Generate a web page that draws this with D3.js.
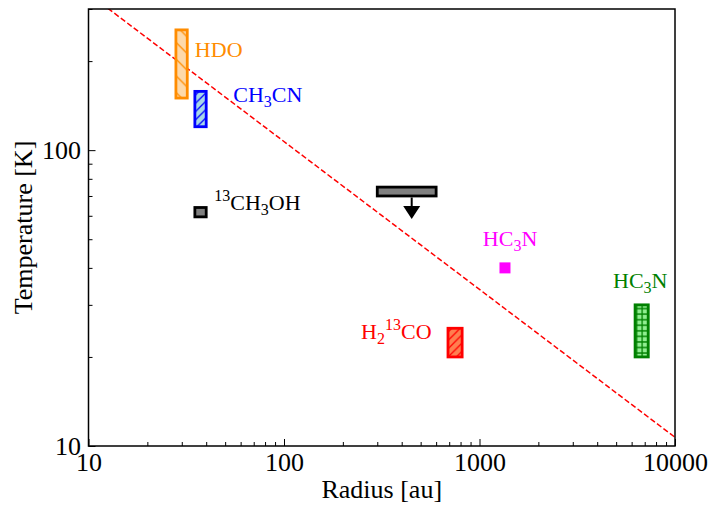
<!DOCTYPE html>
<html><head><meta charset="utf-8">
<script src="https://cdn.jsdelivr.net/npm/d3@7"></script>
<style>body{margin:0;background:#fff}svg{display:block}</style>
</head><body><svg id="c" width="719" height="506"></svg>
<script>
// ---------- data ----------
const xDomain = [10, 10000];
const yDomain = [10, 300];
const xMajorTicks = [10, 100, 1000, 10000];
const xTickLabels = ["10", "100", "1000", "10000"];
const yMajorTicks = [10, 100];
const yTickLabels = ["10", "100"];
const xMinorTicks = [20,30,40,50,60,70,80,90,200,300,400,500,600,700,800,900,2000,3000,4000,5000,6000,7000,8000,9000];
const yMinorTicks = [20,30,40,50,60,70,80,90,200,300];

// range boxes (radius in au, temperature in K)
const boxNames = ["HDO", "CH3CN", "13CH3OH", "H2_13CO", "HC3N_outer", "upper_limit"];
const boxRmin = [28, 35, 35, 690, 6250, 300];
const boxRmax = [32, 40, 40, 815, 7300, 600];
const boxTmin = [150, 120, 59.5, 20, 20, 70];
const boxTmax = [255, 158, 64, 25, 30, 75];

// point measurement
const pointR = [1350];
const pointT = [40];

// upper-limit arrow
const arrowR = [450];
const arrowTfrom = [70];
const arrowTto = [58.5];

// dashed relation T ~ r^-0.5
const lineR = [10, 10000];
const lineT = [338, 10.7];

// labels (data coordinates of text anchor)
const labelR = [35, 55, 44, 248, 1040, 4820];
const labelT = [206, 145, 63, 23, 47.5, 34.2];

// ---------- styles ----------
const boxEdge = ["#ff8c00", "#0000ff", "#000000", "#ff0000", "#008000", "#000000"];
const boxFill = ["#fdd9aa", "#a8d8e8", "#808080", "#ff7f50", "#90ee90", "#808080"];
const boxHatch = ["back", "fwd", null, "fwd", "grid", null];
const boxHatchSpacing = [16.7, 8.3, 0, 8.3, 5.56, 0];

const W = 719, H = 506;
const m = {l: 88.5, r: 675, t: 9, b: 446};
const svg = d3.select("#c");
const x = d3.scaleLog().domain(xDomain).range([m.l, m.r]);
const y = d3.scaleLog().domain(yDomain).range([m.b, m.t]);
const serif = "'Liberation Serif', 'DejaVu Serif', serif";

const defs = svg.append("defs");
defs.append("clipPath").attr("id", "plotclip").append("rect")
  .attr("x", m.l).attr("y", m.t).attr("width", m.r - m.l).attr("height", m.b - m.t);

function makePattern(id, type, color, s) {
  const p = defs.append("pattern").attr("id", id).attr("patternUnits", "userSpaceOnUse")
    .attr("width", s).attr("height", s);
  let d;
  if (type === "back") {
    d = `M0,0 L${s},${s} M-1,${s-1} L1,${s+1} M${s-1},-1 L${s+1},1`;
  } else if (type === "fwd") {
    d = `M0,${s} L${s},0 M-1,1 L1,-1 M${s-1},${s+1} L${s+1},${s-1}`;
  } else {
    d = `M0,${s/2} L${s},${s/2} M${s/2},0 L${s/2},${s}`;
  }
  p.append("path").attr("d", d).attr("stroke", color).attr("stroke-width", 1.3).attr("fill", "none");
}

const plot = svg.append("g").attr("clip-path", "url(#plotclip)");

// dashed line
plot.append("path")
  .attr("d", d3.line().x((d, i) => x(d)).y((d, i) => y(lineT[i]))(lineR))
  .attr("fill", "none").attr("stroke", "#ff0000").attr("stroke-width", 1.5)
  .attr("stroke-dasharray", "5.5,2.6");

// boxes
boxNames.forEach((n, i) => {
  const bx = x(boxRmin[i]), bw = x(boxRmax[i]) - x(boxRmin[i]);
  const by = y(boxTmax[i]), bh = y(boxTmin[i]) - y(boxTmax[i]);
  plot.append("rect").attr("x", bx).attr("y", by).attr("width", bw).attr("height", bh)
    .attr("fill", boxFill[i]);
  if (boxHatch[i]) {
    const pid = "hatch" + i;
    makePattern(pid, boxHatch[i], boxEdge[i], boxHatchSpacing[i]);
    plot.append("rect").attr("x", bx).attr("y", by).attr("width", bw).attr("height", bh)
      .attr("fill", `url(#${pid})`);
  }
  plot.append("rect").attr("x", bx).attr("y", by).attr("width", bw).attr("height", bh)
    .attr("fill", "none").attr("stroke", boxEdge[i]).attr("stroke-width", 2.8);
});

// upper-limit arrow
arrowR.forEach((r, i) => {
  const ax = x(r), y0 = y(arrowTfrom[i]), y1 = y(arrowTto[i]);
  const headL = 13, headW = 8.5;
  plot.append("line").attr("x1", ax).attr("x2", ax).attr("y1", y0 + 1.4).attr("y2", y1 - headL + 1)
    .attr("stroke", "#000").attr("stroke-width", 2);
  plot.append("path")
    .attr("d", `M${ax - headW},${y1 - headL} L${ax + headW},${y1 - headL} L${ax},${y1} Z`)
    .attr("fill", "#000");
});

// point
plot.selectAll(".pt").data(pointR).enter().append("rect")
  .attr("x", (d) => x(d) - 5.5).attr("y", (d, i) => y(pointT[i]) - 5.5)
  .attr("width", 11).attr("height", 11).attr("fill", "#ff00ff");

// labels
const labelColors = ["#ff8c00", "#0000ff", "#000000", "#ff0000", "#ff00ff", "#008000"];
const labelParts = [
  [["HDO", 0]],
  [["CH", 0], ["3", 1], ["CN", 0]],
  [["13", -1], ["CH", 0], ["3", 1], ["OH", 0]],
  [["H", 0], ["2", 1], ["13", -1], ["CO", 0]],
  [["HC", 0], ["3", 1], ["N", 0]],
  [["HC", 0], ["3", 1], ["N", 0]]
];
labelParts.forEach((parts, i) => {
  const t = svg.append("text").attr("x", x(labelR[i])).attr("y", y(labelT[i]))
    .attr("font-family", serif).attr("font-size", 22).attr("fill", labelColors[i]);
  let cur = 0;
  parts.forEach(([s, k]) => {
    const target = k === 1 ? 5 : (k === -1 ? -9 : 0);
    t.append("tspan").attr("dy", target - cur).attr("font-size", k === 0 ? 22 : 16).text(s);
    cur = target;
  });
});

// axes
const xMajor = d3.axisBottom(x).tickValues(xMajorTicks)
  .tickFormat((d, i) => xTickLabels[i]).tickSizeInner(-7).tickSizeOuter(0).tickPadding(6.5);
const xMinor = d3.axisBottom(x).tickValues(xMinorTicks).tickFormat("").tickSizeInner(-4).tickSizeOuter(0);
const yMajor = d3.axisLeft(y).tickValues(yMajorTicks)
  .tickFormat((d, i) => yTickLabels[i]).tickSizeInner(-7).tickSizeOuter(0).tickPadding(7.5);
const yMinor = d3.axisLeft(y).tickValues(yMinorTicks).tickFormat("").tickSizeInner(-4).tickSizeOuter(0);

[[xMajor, `translate(0,${m.b})`], [xMinor, `translate(0,${m.b})`],
 [yMajor, `translate(${m.l},0)`], [yMinor, `translate(${m.l},0)`]].forEach(([ax, tr]) => {
  const g = svg.append("g").attr("transform", tr).call(ax);
  g.select(".domain").remove();
  g.selectAll("line").attr("stroke", "#000").attr("stroke-width", 1);
  g.selectAll("text").attr("font-family", serif).attr("font-size", 26).attr("fill", "#000");
});

// frame
svg.append("rect").attr("x", m.l).attr("y", m.t).attr("width", m.r - m.l).attr("height", m.b - m.t)
  .attr("fill", "none").attr("stroke", "#000").attr("stroke-width", 1.5);

// axis titles
svg.append("text").attr("x", (m.l + m.r) / 2).attr("y", 498).attr("text-anchor", "middle")
  .attr("font-family", serif).attr("font-size", 26).text("Radius [au]");
svg.append("text").attr("transform", `translate(32,${(m.t + m.b) / 2}) rotate(-90)`)
  .attr("text-anchor", "middle").attr("font-family", serif).attr("font-size", 26)
  .text("Temperature [K]");
</script>
</body></html>
